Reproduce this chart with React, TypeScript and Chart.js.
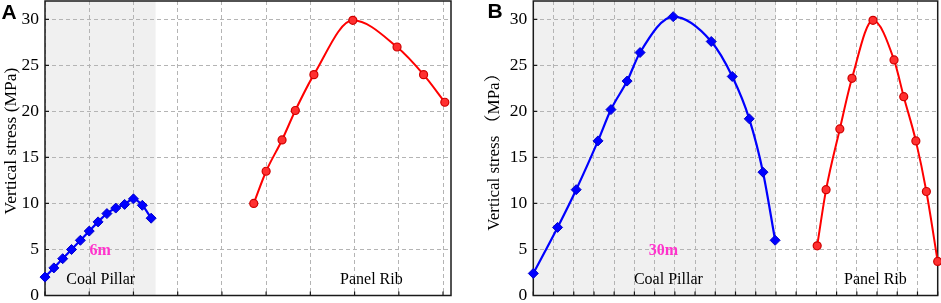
import React, { useEffect, useRef } from 'react';
import { Chart, registerables } from 'chart.js';

Chart.register(...registerables);

// ---------- Data ----------
// Panel A (x in plot units, grid every 5 units)
const pillarAX = [0, 1, 2, 3, 4, 5, 6, 7, 8, 9, 10, 11, 12];
const pillarAY = [2.0, 3.0, 4.0, 5.0, 6.0, 7.0, 8.0, 8.9, 9.5, 9.9, 10.5, 9.8, 8.4];
const ribAX = [23.6, 25.0, 26.8, 28.3, 30.4, 34.8, 39.8, 42.8, 45.2];
const ribAY = [10.0, 13.5, 16.9, 20.1, 24.0, 29.9, 27.0, 24.0, 21.0];

// Panel B (x in metres, grid every 2.5 m)
const pillarBX = [0, 3.0, 5.3, 8.0, 9.6, 11.6, 13.2, 17.3, 22.0, 24.6, 26.7, 28.4, 29.9];
const pillarBY = [2.4, 7.4, 11.5, 16.8, 20.2, 23.3, 26.4, 30.3, 27.6, 23.8, 19.2, 13.4, 6.0];
const ribBX = [35.1, 36.2, 37.9, 39.4, 42.0, 44.6, 45.8, 47.3, 48.6, 50.0];
const ribBY = [5.4, 11.5, 18.1, 23.6, 29.9, 25.6, 21.6, 16.8, 11.3, 3.7];

// Ticks / grid positions
const yTicks = [0, 5, 10, 15, 20, 25, 30];
const xGridA = [0, 5, 10, 15, 20, 25, 30, 35, 40, 45];
const xGridB = [0, 2.5, 5, 7.5, 10, 12.5, 15, 17.5, 20, 22.5, 25, 27.5, 30, 32.5, 35, 37.5, 40, 42.5, 45, 47.5, 50];

// Labels
const pillarLabel = 'Coal Pillar';
const ribLabel = 'Panel Rib';
const widthLabelA = '6m';
const widthLabelB = '30m';
const yTitleA = 'Vertical stress (MPa)';
const yTitleB = 'Vertical stress （MPa）';

const SERIF = "'Liberation Serif', 'Times New Roman', 'Noto Serif CJK SC', 'Noto Sans CJK SC', serif";
const SANS = "'Liberation Sans', Arial, sans-serif";

type PanelCfg = {
  letter: string;
  letterPos: [number, number];
  yTitle: string;
  yTitlePos: [number, number];
  yTitleSize: number;
  shadeTo: number;
  widthLabel: string;
  widthLabelX: number;
  pillarLabelX: number;
  ribLabelX: number;
  xMax: number;
  xGrid: number[];
  plotLeft: number;
  padRight: number;
  canvasW: number;
  pillarX: number[];
  pillarY: number[];
  ribX: number[];
  ribY: number[];
};

function makePlugin(o: PanelCfg) {
  return {
    id: 'panelDecor',
    beforeDraw(chart: any) {
      const { ctx, chartArea: a, scales } = chart;
      const xe = scales.x.getPixelForValue(o.shadeTo);
      ctx.save();
      ctx.fillStyle = '#f0f0f0';
      ctx.fillRect(a.left, a.top, xe - a.left, a.bottom - a.top);
      ctx.restore();
    },
    beforeDatasetsDraw(chart: any) {
      const { ctx, chartArea: a, scales } = chart;
      ctx.save();
      ctx.strokeStyle = '#1a1a1a';
      ctx.lineWidth = 1.5;
      ctx.setLineDash([]);
      ctx.strokeRect(a.left, a.top, a.right - a.left, a.bottom - a.top);
      ctx.lineWidth = 1.2;
      ctx.beginPath();
      for (const v of o.xGrid) {
        const px = scales.x.getPixelForValue(v);
        ctx.moveTo(px, a.bottom);
        ctx.lineTo(px, a.bottom - 4);
      }
      for (const v of yTicks) {
        const py = scales.y.getPixelForValue(v);
        ctx.moveTo(a.left, py);
        ctx.lineTo(a.left + 4, py);
      }
      ctx.stroke();
      ctx.restore();
    },
    afterDraw(chart: any) {
      const { ctx, scales } = chart;
      const X = (v: number) => scales.x.getPixelForValue(v);
      const Y = (v: number) => scales.y.getPixelForValue(v);
      ctx.save();
      ctx.textAlign = 'center';
      ctx.textBaseline = 'middle';
      // panel letter
      ctx.fillStyle = '#000';
      ctx.font = `bold 21px ${SANS}`;
      ctx.fillText(o.letter, o.letterPos[0], o.letterPos[1]);
      // region labels
      ctx.font = `16px ${SERIF}`;
      ctx.fillText(pillarLabel, X(o.pillarLabelX), Y(1.75));
      ctx.fillText(ribLabel, X(o.ribLabelX), Y(1.75));
      ctx.fillStyle = '#ff33cc';
      ctx.font = `bold 16px ${SERIF}`;
      ctx.fillText(o.widthLabel, X(o.widthLabelX), Y(4.8));
      // y title
      ctx.fillStyle = '#000';
      ctx.font = `${o.yTitleSize}px ${SERIF}`;
      ctx.translate(o.yTitlePos[0], o.yTitlePos[1]);
      ctx.rotate(-Math.PI / 2);
      ctx.fillText(o.yTitle, 0, 0);
      ctx.restore();
    },
  };
}

function buildConfig(o: PanelCfg): any {
  return {
    type: 'line',
    data: {
      datasets: [
        {
          data: o.pillarX.map((x, i) => ({ x, y: o.pillarY[i] })),
          borderColor: '#0000ff',
          backgroundColor: '#0000ff',
          borderWidth: 2.2,
          pointStyle: 'rectRot',
          pointRadius: 5,
          pointBorderWidth: 1,
          pointBackgroundColor: '#0000ff',
          pointBorderColor: '#0000cc',
          cubicInterpolationMode: 'monotone',
          clip: false,
        },
        {
          data: o.ribX.map((x, i) => ({ x, y: o.ribY[i] })),
          borderColor: '#ff0000',
          backgroundColor: '#ff0000',
          borderWidth: 2,
          pointStyle: 'circle',
          pointRadius: 4,
          pointBorderWidth: 1.2,
          pointBackgroundColor: '#ff3030',
          pointBorderColor: '#d00000',
          cubicInterpolationMode: 'monotone',
          clip: false,
        },
      ],
    },
    options: {
      animation: false,
      responsive: false,
      maintainAspectRatio: false,
      layout: { autoPadding: false, padding: { left: 0, top: 1, right: o.padRight, bottom: 7.5 } },
      plugins: { legend: { display: false }, tooltip: { enabled: false } },
      scales: {
        x: {
          type: 'linear',
          min: 0,
          max: o.xMax,
          afterBuildTicks: (s: any) => {
            s.ticks = o.xGrid.map((v) => ({ value: v }));
          },
          afterFit: (s: any) => {
            s.height = 0;
            s.paddingLeft = 0;
            s.paddingRight = 0;
          },
          ticks: { display: false },
          grid: { color: '#b4b4b4', lineWidth: 1, drawTicks: false },
          border: { display: false, dash: [4, 3] },
        },
        y: {
          type: 'linear',
          min: 0,
          max: 32,
          afterBuildTicks: (s: any) => {
            s.ticks = yTicks.map((v) => ({ value: v }));
          },
          afterFit: (s: any) => {
            s.width = o.plotLeft;
            s.paddingTop = 0;
            s.paddingBottom = 0;
          },
          ticks: { color: '#000', padding: 6, font: { family: SERIF, size: 17.5 } },
          grid: { color: '#b4b4b4', lineWidth: 1, drawTicks: false },
          border: { display: false, dash: [4, 3] },
        },
      },
    },
    plugins: [makePlugin(o)],
  };
}

const panelA: PanelCfg = {
  letter: 'A',
  letterPos: [9, 13],
  yTitle: yTitleA,
  yTitlePos: [11, 141],
  yTitleSize: 17.5,
  shadeTo: 12.5,
  widthLabel: widthLabelA,
  widthLabelX: 6.25,
  pillarLabelX: 6.3,
  ribLabelX: 36.9,
  xMax: 45.9,
  xGrid: xGridA,
  plotLeft: 45,
  padRight: 19,
  canvasW: 470,
  pillarX: pillarAX,
  pillarY: pillarAY,
  ribX: ribAX,
  ribY: ribAY,
};

const panelB: PanelCfg = {
  letter: 'B',
  letterPos: [25, 12.5],
  yTitle: yTitleB,
  yTitlePos: [25, 148],
  yTitleSize: 17,
  shadeTo: 30,
  widthLabel: widthLabelB,
  widthLabelX: 16.1,
  pillarLabelX: 16.7,
  ribLabelX: 42.3,
  xMax: 50,
  xGrid: xGridB,
  plotLeft: 63.3,
  padRight: 3.3,
  canvasW: 471,
  pillarX: pillarBX,
  pillarY: pillarBY,
  ribX: ribBX,
  ribY: ribBY,
};

function Panel({ cfg, left }: { cfg: PanelCfg; left: number }) {
  const ref = useRef<HTMLCanvasElement>(null);
  useEffect(() => {
    if (!ref.current) return;
    const chart = new Chart(ref.current, buildConfig(cfg));
    return () => chart.destroy();
  }, [cfg]);
  return (
    <canvas
      ref={ref}
      width={cfg.canvasW}
      height={303}
      style={{ position: 'absolute', left, top: 0, width: cfg.canvasW, height: 303 }}
    />
  );
}

export default function App() {
  return (
    <div style={{ position: 'absolute', left: 0, top: 0, width: 941, height: 303, background: '#fff' }}>
      <Panel cfg={panelA} left={0} />
      <Panel cfg={panelB} left={470} />
    </div>
  );
}
